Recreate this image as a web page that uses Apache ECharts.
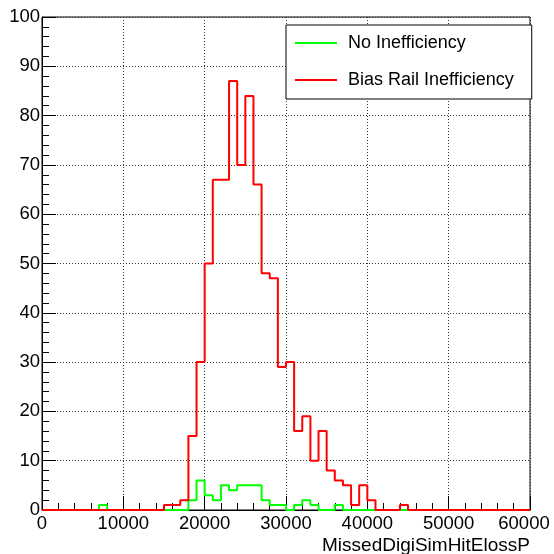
<!DOCTYPE html>
<html>
<head>
<meta charset="utf-8">
<title>MissedDigiSimHitElossP</title>
<script src="https://cdn.jsdelivr.net/npm/echarts@6.0.0/dist/echarts.min.js"></script>
<style>
  html, body { margin: 0; padding: 0; background: #fff; }
  #chart { width: 554px; height: 554px; }
</style>
</head>
<body>
<div id="chart"></div>
<script>
// Histogram binning: 60 bins of width 1000 over [0, 60000]
const binWidth = 1000;
const nBins = 60;

// Entries per bin, "No Inefficiency"
const noInefficiency = [
  0, 0, 0, 0, 0, 0, 0, 1, 0, 0,
  0, 0, 0, 0, 0, 0, 0, 0, 2, 6,
  3, 2, 5, 4, 5, 5, 5, 2, 1, 1,
  0, 1, 2, 1, 0, 0, 1, 0, 0, 0,
  0, 0, 0, 0, 0, 0, 0, 0, 0, 0,
  0, 0, 0, 0, 0, 0, 0, 0, 0, 0
];

// Entries per bin, "Bias Rail Inefficiency"
const biasRailInefficiency = [
  0, 0, 0, 0, 0, 0, 0, 0, 0, 0,
  0, 0, 0, 0, 0, 1, 1, 2, 15, 30,
  50, 67, 67, 87, 70, 84, 66, 48, 47, 29,
  30, 16, 19, 10, 16, 8, 6, 5, 1, 5,
  2, 0, 0, 0, 1, 0, 0, 0, 0, 0,
  0, 0, 0, 0, 0, 0, 0, 0, 0, 0
];

const seriesNames = ['No Inefficiency', 'Bias Rail Inefficiency'];
const xTitle = 'MissedDigiSimHitElossP';

const FONT = '"Liberation Sans", Arial, Helvetica, sans-serif';

// Turn per-bin counts into step-line points at the bin lower edges,
// closing with the upper edge of the last bin.
function stepPoints(counts) {
  const pts = counts.map((v, i) => [i * binWidth, v]);
  pts.push([nBins * binWidth, counts[counts.length - 1]]);
  return pts;
}

const xMax = nBins * binWidth;

const chart = echarts.init(document.getElementById('chart'), null, { renderer: 'canvas' });

chart.setOption({
  animation: false,
  backgroundColor: '#fff',
  textStyle: { fontFamily: FONT },
  grid: {
    left: 42, right: 24, top: 17, bottom: 44,
    outerBoundsMode: 'none',
    containLabel: false,
    show: true, borderColor: '#000', borderWidth: 1, backgroundColor: 'transparent'
  },
  legend: {
    data: seriesNames,
    orient: 'vertical',
    left: 286, top: 25,
    padding: [9, 18, 10, 9],
    itemGap: 19,
    itemWidth: 42,
    itemHeight: 2,
    icon: 'rect',
    selectedMode: false,
    backgroundColor: '#fff',
    borderColor: '#000',
    borderWidth: 1,
    borderRadius: 0,
    textStyle: { fontFamily: FONT, fontSize: 18, color: '#000', padding: [0, 0, 0, 6] }
  },
  xAxis: {
    type: 'value',
    min: 0, max: xMax, interval: 10000,
    name: xTitle,
    nameLocation: 'end',
    nameGap: 0,
    nameTextStyle: {
      fontFamily: FONT, fontSize: 19, color: '#000',
      align: 'right', verticalAlign: 'top', padding: [26, 0, 0, 0]
    },
    axisLine: { show: true, onZero: false, lineStyle: { color: '#000', width: 1 } },
    axisTick: { show: true, inside: true, length: 14, lineStyle: { color: '#000', width: 1 } },
    minorTick: { show: true, splitNumber: 5, length: 7, lineStyle: { color: '#000', width: 1 } },
    axisLabel: {
      color: '#000', fontFamily: FONT, fontSize: 18.5, margin: 4,
      // the last label is nudged left so it stays inside the canvas
      formatter: v => (v === xMax ? '{edge|' + v + '}' : String(v)),
      rich: {
        edge: { fontFamily: FONT, fontSize: 18.5, color: '#000', padding: [0, 12, 0, 0] }
      }
    },
    splitLine: { show: true, lineStyle: { color: '#333', type: [1, 2], width: 1 } }
  },
  yAxis: {
    type: 'value',
    min: 0, max: 100, interval: 10,
    axisLine: { show: true, lineStyle: { color: '#000', width: 1 } },
    axisTick: { show: true, inside: true, length: 14, lineStyle: { color: '#000', width: 1 } },
    minorTick: { show: true, splitNumber: 5, length: 7, lineStyle: { color: '#000', width: 1 } },
    axisLabel: { color: '#000', fontFamily: FONT, fontSize: 18.5, margin: 2 },
    splitLine: { show: true, lineStyle: { color: '#333', type: [1, 2], width: 1 } }
  },
  series: [
    {
      name: seriesNames[0],
      type: 'line',
      step: 'end',
      symbol: 'none',
      clip: false,
      color: '#00ff00',
      lineStyle: { color: '#00ff00', width: 2 },
      data: stepPoints(noInefficiency),
      z: 2
    },
    {
      name: seriesNames[1],
      type: 'line',
      step: 'end',
      symbol: 'none',
      clip: false,
      color: '#ff0000',
      lineStyle: { color: '#ff0000', width: 2 },
      data: stepPoints(biasRailInefficiency),
      z: 3
    }
  ]
});
</script>
</body>
</html>
